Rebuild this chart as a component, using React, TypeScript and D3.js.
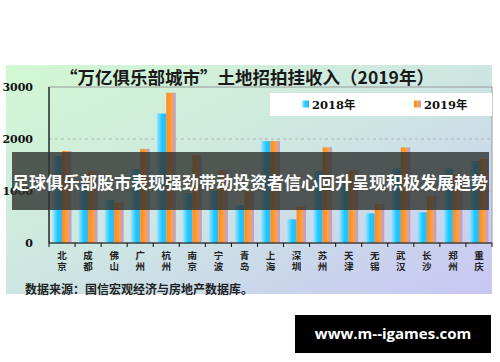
import React from 'react';
import * as d3 from 'd3';

const cities = ['北京', '成都', '佛山', '广州', '杭州', '南京', '宁波', '青岛', '上海', '深圳', '苏州', '天津', '无锡', '武汉', '长沙', '郑州', '重庆'];
const v2018 = [1670, 1150, 830, 1420, 2490, 960, 1000, 730, 1960, 455, 1385, 1150, 570, 1435, 590, 1430, 1575];
const v2019 = [1770, 1385, 775, 1810, 2890, 1690, 1400, 990, 1960, 700, 1840, 1400, 750, 1840, 905, 1310, 1615];
const yTicks = [0, 1000, 2000, 3000];
const seriesNames = ['2018年', '2019年'];
const title = '“万亿俱乐部城市”土地招拍挂收入（2019年）';
const source = '数据来源：国信宏观经济与房地产数据库。';
const banner = '足球俱乐部股市表现强劲带动投资者信心回升呈现积极发展趋势';
const watermark = 'www.m--igames.com';

export default function App() {
  const left = 49, right = 492, top = 87, bottom = 243;
  const x = d3.scaleBand<string>().domain(cities).range([left, right]).paddingInner(0.27).paddingOuter(0.135);
  const y = d3.scaleLinear().domain([0, 3000]).range([bottom, top]);
  const bw = x.bandwidth() / 2;
  const step = x.step();
  const serif = '"DejaVu Serif", "Liberation Serif", "Noto Sans CJK SC", serif';
  const cjk = '"Noto Sans CJK SC", sans-serif';
  return (
    <svg width={500} height={362} style={{ position: 'absolute', left: 0, top: 0, background: '#fff' }}>
      <defs>
        <linearGradient id="bg" x1="0" y1="0" x2="1" y2="1">
          <stop offset="0%" stopColor="#d2f8d2" />
          <stop offset="50%" stopColor="#cde6e2" />
          <stop offset="100%" stopColor="#c8c6f4" />
        </linearGradient>
        <linearGradient id="gBlue" x1="0" y1="0" x2="1" y2="0">
          <stop offset="0%" stopColor="#a8e2ff" />
          <stop offset="55%" stopColor="#18caff" />
          <stop offset="100%" stopColor="#3ab4f8" />
        </linearGradient>
        <linearGradient id="gOrange" x1="0" y1="0" x2="1" y2="0">
          <stop offset="0%" stopColor="#ff8c1a" />
          <stop offset="55%" stopColor="#ffa040" />
          <stop offset="100%" stopColor="#b0a0ee" />
        </linearGradient>
      </defs>
      <rect x={6} y={65} width={486} height={229} fill="url(#bg)" />
      <text x={247} y={84} textAnchor="middle" fontFamily={cjk} fontWeight={700} fontSize={17.5} fill="#1a1a1a">{title}</text>
      {/* plot frame */}
      <rect x={left} y={top} width={right - left} height={bottom - top} fill="none" stroke="#999" strokeWidth={1} />
      {yTicks.filter(t => t > 0 && t < 3000).map(t => (
        <line key={t} x1={left} x2={right} y1={y(t)} y2={y(t)} stroke="#aaa" strokeDasharray="3,3" strokeWidth={0.8} />
      ))}
      {yTicks.map(t => (
        <text key={t} x={33} y={y(t) + 4} textAnchor="end" fontFamily={serif} fontWeight={700} fontSize={11} fill="#111">{t}</text>
      ))}
      {/* legend */}
      <rect x={270} y={93} width={222} height={23} fill="#fff" />
      {seriesNames.map((s, i) => (
        <g key={s} transform={`translate(${302 + i * 112},${104.5})`}>
          <rect x={0} y={-4} width={7} height={7} fill={i === 0 ? 'url(#gBlue)' : 'url(#gOrange)'} />
          <text x={10} y={4} fontFamily={serif} fontWeight={700} fontSize={11.5} fill="#111">{s}</text>
        </g>
      ))}
      {/* bars */}
      {cities.map((c, i) => (
        <g key={c}>
          <rect x={x(c)!} y={y(v2018[i])} width={bw} height={bottom - y(v2018[i])} fill="url(#gBlue)" />
          <rect x={x(c)! + bw} y={y(v2019[i])} width={bw} height={bottom - y(v2019[i])} fill="url(#gOrange)" />
        </g>
      ))}
      {/* axes */}
      <line x1={left} x2={left} y1={top} y2={bottom} stroke="#111" strokeWidth={1.2} />
      <line x1={left} x2={right} y1={bottom} y2={bottom} stroke="#111" strokeWidth={1.2} />
      {d3.range(cities.length + 1).map(k => (
        <line key={k} x1={left + k * step} x2={left + k * step} y1={bottom} y2={bottom + 4} stroke="#111" strokeWidth={1} />
      ))}
      {cities.map(c => (
        <text key={c} x={x(c)! + x.bandwidth() / 2} y={251} style={{ writingMode: 'vertical-rl' }} letterSpacing={1.5} fontFamily={cjk} fontWeight={700} fontSize={9.5} fill="#222">{c}</text>
      ))}
      <text x={25} y={294} fontFamily={cjk} fontWeight={700} fontSize={12} fill="#222">{source}</text>
      {/* overlay banner */}
      <rect x={12} y={152} width={477} height={58} fill="rgba(48,50,48,0.8)" />
      <text x={250} y={189} textAnchor="middle" fontFamily={cjk} fontWeight={700} fontSize={17} fill="#fff">{banner}</text>
      {/* watermark */}
      <rect x={295} y={315} width={196} height={38} fill="#000" />
      <text x={393} y={339} textAnchor="middle" fontFamily='"Open Sans", "DejaVu Sans", sans-serif' fontWeight={700} fontSize={15} fill="#fff">{watermark}</text>
    </svg>
  );
}
